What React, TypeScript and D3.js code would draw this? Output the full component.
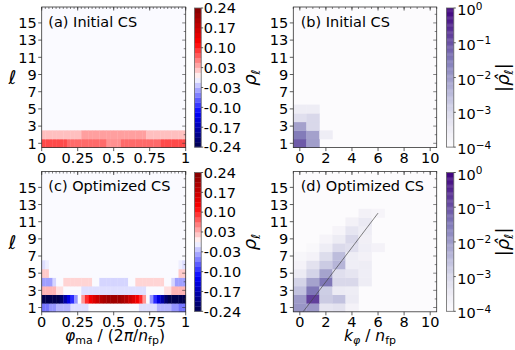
import React from 'react';
import * as d3 from 'd3';

// ---------- data ----------
const phiTicks = [0, 0.25, 0.5, 0.75, 1];
const phiTickLabels = ['0', '0.25', '0.5', '0.75', '1'];
const kTicks = [0, 2, 4, 6, 8, 10];
const lTicks = [1, 3, 5, 7, 9, 11, 13, 15];
const rhoCbTicks = [-0.24, -0.1714, -0.1029, -0.0343, 0.0343, 0.1029, 0.1714, 0.24];
const rhoCbLabels = ['-0.24', '-0.17', '-0.10', '-0.03', '0.03', '0.10', '0.17', '0.24'];
const logCbTicks = [0, -1, -2, -3, -4];

// (a) initial CS, rho_l(phi) on 40 phi columns, rows l = 1, 2
const initL1 = [0.085, 0.085, 0.085, 0.085, 0.085, 0.085, 0.085, 0.07, 0.07, 0.07, 0.07, 0.07, 0.07, 0.07, 0.07, 0.07, 0.07, 0.07, 0.052, 0.052, 0.052, 0.052, 0.07, 0.07, 0.07, 0.07, 0.07, 0.07, 0.07, 0.07, 0.07, 0.07, 0.07, 0.085, 0.085, 0.085, 0.085, 0.085, 0.085, 0.085];
const initL2 = [0.03, 0.03, 0.03, 0.03, 0.03, 0.03, 0.03, 0.03, 0.03, 0.03, 0.03, 0.045, 0.045, 0.045, 0.045, 0.045, 0.045, 0.045, 0.045, 0.045, 0.045, 0.045, 0.045, 0.045, 0.045, 0.045, 0.045, 0.045, 0.045, 0.03, 0.03, 0.03, 0.03, 0.03, 0.03, 0.03, 0.03, 0.03, 0.03, 0.03];

// (c) optimized CS, rows l = 1..6
const optL1 = [-0.065, -0.065, -0.05, -0.05, -0.035, -0.035, -0.035, -0.035, -0.015, -0.015, -0.015, -0.015, -0.015, 0, 0, 0, 0, 0, 0, 0, 0, 0, 0, 0, 0, 0, 0, -0.015, -0.015, -0.015, -0.015, -0.015, -0.035, -0.035, -0.035, -0.035, -0.05, -0.05, -0.065, -0.065];
const optL2 = [-0.24, -0.24, -0.24, -0.24, -0.24, -0.22, -0.18, -0.14, -0.1, -0.05, 0, 0.05, 0.1, 0.13, 0.15, 0.17, 0.19, 0.2, 0.21, 0.21, 0.21, 0.21, 0.2, 0.19, 0.17, 0.15, 0.13, 0.1, 0.05, 0, -0.05, -0.1, -0.14, -0.18, -0.22, -0.24, -0.24, -0.24, -0.24, -0.24];
const optL3 = [0.035, 0.035, 0.035, 0.035, 0.015, 0.015, 0, 0, 0, 0, 0, -0.015, -0.015, -0.015, -0.015, -0.015, -0.015, -0.015, -0.015, -0.015, -0.015, -0.015, -0.015, -0.015, -0.015, -0.015, -0.015, -0.015, -0.015, 0, 0, 0, 0, 0, 0.015, 0.015, 0.035, 0.035, 0.035, 0.035];
const optL4 = [-0.045, -0.045, -0.045, -0.02, 0, 0, 0.02, 0.02, 0.02, 0.02, 0.02, 0.02, 0.02, 0.02, 0, 0, -0.02, -0.02, -0.02, -0.02, -0.02, -0.02, -0.02, -0.02, 0, 0, 0.02, 0.02, 0.02, 0.02, 0.02, 0.02, 0.02, 0.02, 0, 0, -0.02, -0.045, -0.045, -0.045];
const optL5 = [0.025, 0.025, 0, 0, 0, 0, 0, 0, 0, 0, 0, 0, 0, 0, 0, 0, 0, 0, 0, 0, 0, 0, 0, 0, 0, 0, 0, 0, 0, 0, 0, 0, 0, 0, 0, 0, 0, 0, 0.025, 0.025];
const optL6 = [-0.015, -0.008, 0, 0, 0, 0, 0, 0, 0, 0, 0, 0, 0, 0, 0, 0, 0, 0, 0, 0, 0, 0, 0, 0, 0, 0, 0, 0, 0, 0, 0, 0, 0, 0, 0, 0, 0, 0, -0.008, -0.015];

// (b) initial CS spectrum |rho_hat|, rows l = 1..5, columns k = 0..10
const specInit = [
  [0.08, 0.009, 0, 0, 0, 0, 0, 0, 0, 0, 0],
  [0.03, 0.008, 0.0003, 0, 0, 0, 0, 0, 0, 0, 0],
  [0.008, 0.001, 0, 0, 0, 0, 0, 0, 0, 0, 0],
  [0.0007, 0.001, 0, 0, 0, 0, 0, 0, 0, 0, 0],
  [0.0003, 0.0003, 0, 0, 0, 0, 0, 0, 0, 0, 0],
];

// (d) optimized CS spectrum, rows l = 1..12
const specOpt = [
  [0.012, 0.011, 0.0005, 0.0006, 0.0002, 0, 0, 0, 0, 0, 0],
  [0.01, 0.16, 0.0018, 0.0025, 0.00035, 0, 0, 0, 0, 0, 0],
  [0.0025, 0.035, 0.0016, 0.00035, 0.0003, 0, 0, 0, 0, 0, 0],
  [0.0012, 0.0075, 0.035, 0.001, 0.001, 0.0003, 0, 0, 0, 0, 0],
  [0.00035, 0.0012, 0.0075, 0.0007, 0.0005, 0.00028, 0, 0, 0, 0, 0],
  [0.0002, 0.0006, 0.0018, 0.004, 0.00028, 0.0003, 0, 0, 0, 0, 0],
  [0.00015, 0.0002, 0.0008, 0.003, 0.0003, 0.00022, 0, 0, 0, 0, 0],
  [0, 0.00013, 0.0003, 0.0009, 0.0007, 0.00028, 0.0002, 0, 0, 0, 0],
  [0, 0, 0.00017, 0.00033, 0.001, 0.00025, 0, 0, 0, 0, 0],
  [0, 0, 0, 0.00017, 0.0005, 0.0003, 0, 0, 0, 0, 0],
  [0, 0, 0, 0, 0.00022, 0.0004, 0, 0, 0, 0, 0],
  [0, 0, 0, 0, 0, 0.00022, 0.00017, 0, 0, 0, 0],
];

// guide line l = 2 k
const guideK = [0.25, 6];
const guideL = [0.5, 12];

// ---------- styling / layout ----------
const FONT = 'DejaVu Sans, Verdana, sans-serif';
const FS = 14.5;
const SPINE = '#333';
const leftX: [number, number] = [41.7, 185.7];
const rightX: [number, number] = [293.3, 436.7];
const topY: [number, number] = [7, 147.6];
const botY: [number, number] = [171.5, 311.8];
const leftCbX: [number, number] = [194.5, 201.2];
const rightCbX: [number, number] = [446.4, 453.8];
const lDomain: [number, number] = [0.5, 16.85];

function seismic(t: number): string {
  t = Math.max(0, Math.min(1, t));
  const lerp = (pts: [number, number][]) => {
    for (let i = 0; i < pts.length - 1; i++) {
      const [a, va] = pts[i];
      const [b, vb] = pts[i + 1];
      if (t <= b) return va + ((t - a) / (b - a)) * (vb - va);
    }
    return pts[pts.length - 1][1];
  };
  const r = lerp([[0, 0], [0.25, 0], [0.5, 1], [0.75, 1], [1, 0.5]]);
  const g = lerp([[0, 0], [0.25, 0], [0.5, 1], [0.75, 0], [1, 0]]);
  const b = lerp([[0, 0.3], [0.25, 1], [0.5, 1], [0.75, 0], [1, 0]]);
  return d3.rgb(r * 255, g * 255, b * 255).formatHex();
}
const rhoColor = d3.scaleLinear().domain([-0.24, 0.24]).range([0, 1]).clamp(true);
const colorRho = (v: number) => seismic(rhoColor(v));
const logNorm = d3.scaleLog().domain([1e-4, 1]).range([0, 1]).clamp(true);
const colorSpec = (v: number) => d3.interpolatePurples(v > 0 ? logNorm(v) : 0);
const RHO_BG = '#fafaff';

type Cell = { x0: number; x1: number; l: number; fill: string };

function Frame({ xr, yr, xScale, yScale, xTicks, xLabels, xMinor }: any) {
  const [x0, x1] = xr;
  const [y0, y1] = yr;
  return (
    <g>
      {xTicks.map((t: number, i: number) => (
        <g key={'xb' + i}>
          <line x1={xScale(t)} x2={xScale(t)} y1={y1} y2={y1 + 3.5} stroke={SPINE} strokeWidth={0.8} />
          <text x={xScale(t)} y={y1 + 15.3} textAnchor="middle" fontSize={FS} fontFamily={FONT}>{xLabels[i]}</text>
        </g>
      ))}
      {xMinor.map((t: number, i: number) => (
        <line key={'xt' + i} x1={xScale(t)} x2={xScale(t)} y1={y0} y2={y0 + 2} stroke={SPINE} strokeWidth={0.6} />
      ))}
      {xTicks.map((t: number, i: number) => (
        <line key={'xtM' + i} x1={xScale(t)} x2={xScale(t)} y1={y0} y2={y0 + 3.5} stroke={SPINE} strokeWidth={0.8} />
      ))}
      {lTicks.map((t, i) => (
        <g key={'yl' + i}>
          <line x1={x0 - 3.5} x2={x0} y1={yScale(t)} y2={yScale(t)} stroke={SPINE} strokeWidth={0.8} />
          <text x={x0 - 5} y={yScale(t) + 5.3} textAnchor="end" fontSize={FS} fontFamily={FONT}>{t}</text>
        </g>
      ))}
      {d3.range(1, 17).map((t) => (
        <line key={'yr' + t} x1={x1 - (t % 2 ? 3.5 : 2)} x2={x1} y1={yScale(t)} y2={yScale(t)} stroke={SPINE} strokeWidth={0.6} />
      ))}
      <rect x={x0} y={y0} width={x1 - x0} height={y1 - y0} fill="none" stroke={SPINE} strokeWidth={0.8} />
    </g>
  );
}

function Heat({ xr, yr, xScale, yScale, cells, bg }: any) {
  const [x0, x1] = xr;
  const [y0, y1] = yr;
  return (
    <g>
      <rect x={x0} y={y0} width={x1 - x0} height={y1 - y0} fill={bg} />
      {cells.map((c: Cell, i: number) => {
        const a = xScale(c.x0);
        const b = xScale(c.x1);
        const top = yScale(c.l + 0.5);
        const bot = yScale(c.l - 0.5);
        return <rect key={i} x={a} y={top} width={b - a + 0.35} height={bot - top + 0.35} fill={c.fill} />;
      })}
    </g>
  );
}

function phiCells(rows: number[][]): Cell[] {
  const out: Cell[] = [];
  rows.forEach((row, li) => {
    const n = row.length;
    row.forEach((v, i) => {
      out.push({ x0: i / n, x1: (i + 1) / n, l: li + 1, fill: v === 0 ? RHO_BG : colorRho(v) });
    });
  });
  return out;
}
function specCells(rows: number[][]): Cell[] {
  const out: Cell[] = [];
  rows.forEach((row, li) => {
    row.forEach((v, k) => {
      if (v > 0) out.push({ x0: k - 0.5, x1: k + 0.5, l: li + 1, fill: colorSpec(v) });
    });
  });
  return out;
}

function RhoColorbar({ yr }: any) {
  const [y0, y1] = yr;
  const [cx0, cx1] = leftCbX;
  const s = d3.scaleLinear().domain([-0.24, 0.24]).range([y1, y0]);
  const bands = d3.range(0, 28);
  const dv = 0.48 / 28;
  return (
    <g>
      {bands.map((i) => {
        const v0 = -0.24 + i * dv;
        return <rect key={i} x={cx0} y={s(v0 + dv)} width={cx1 - cx0} height={s(v0) - s(v0 + dv) + 0.3} fill={colorRho(v0 + dv / 2)} />;
      })}
      <rect x={cx0} y={y0} width={cx1 - cx0} height={y1 - y0} fill="none" stroke="#666" strokeWidth={0.8} />
      {rhoCbTicks.map((t, i) => (
        <g key={i}>
          <line x1={cx1} x2={cx1 + 2} y1={s(t)} y2={s(t)} stroke={SPINE} strokeWidth={0.8} />
          <text x={cx1 + 2.5} y={s(t) + 5.3} fontSize={FS} fontFamily={FONT}>{rhoCbLabels[i]}</text>
        </g>
      ))}
      <text transform={`translate(255.5,${(y0 + y1) / 2}) rotate(-90)`} textAnchor="middle" fontSize={18} fontFamily={FONT}>
        <tspan fontStyle="italic">ρ</tspan>
        <tspan fontSize={12.5} dy={4} fontStyle="italic">ℓ</tspan>
      </text>
    </g>
  );
}

function LogColorbar({ yr }: any) {
  const [y0, y1] = yr;
  const [cx0, cx1] = rightCbX;
  const s = d3.scaleLinear().domain([-4, 0]).range([y1, y0]);
  const n = 120;
  return (
    <g>
      {d3.range(n).map((i) => {
        const e0 = -4 + (i * 4) / n;
        const e1 = -4 + ((i + 1) * 4) / n;
        return <rect key={i} x={cx0} y={s(e1)} width={cx1 - cx0} height={s(e0) - s(e1) + 0.3} fill={colorSpec(Math.pow(10, (e0 + e1) / 2))} />;
      })}
      <rect x={cx0} y={y0} width={cx1 - cx0} height={y1 - y0} fill="none" stroke="#666" strokeWidth={0.8} />
      {logCbTicks.map((e) => (
        <g key={e}>
          <line x1={cx1} x2={cx1 + 2} y1={s(e)} y2={s(e)} stroke={SPINE} strokeWidth={0.8} />
          <text x={cx1 + 3.5} y={s(e) + 7} fontSize={FS} fontFamily={FONT}>
            10<tspan fontSize={10.5} dy={-5.5}>{e === 0 ? '0' : '−' + Math.abs(e)}</tspan>
          </text>
        </g>
      ))}
      <text transform={`translate(509,${(y0 + y1) / 2}) rotate(-90)`} textAnchor="middle" fontSize={18} fontFamily={FONT}>
        |<tspan fontStyle="italic">ρ̂</tspan>
        <tspan fontSize={12.5} dy={4} fontStyle="italic">ℓ</tspan>
        <tspan dy={-4}>|</tspan>
      </text>
    </g>
  );
}

export default function App() {
  const xPhiL = d3.scaleLinear().domain([0, 1]).range(leftX);
  const xK = d3.scaleLinear().domain([-0.5, 10.5]).range(rightX);
  const yTop = d3.scaleLinear().domain(lDomain).range([topY[1], topY[0]]);
  const yBot = d3.scaleLinear().domain(lDomain).range([botY[1], botY[0]]);
  const phiMinor = d3.range(0, 41).map((i) => i / 40);
  const kMinor = d3.range(-1, 22).map((i) => i * 0.5).filter((v) => v >= -0.5 && v <= 10.5);

  const cellsA = phiCells([initL1, initL2]);
  const cellsC = phiCells([optL1, optL2, optL3, optL4, optL5, optL6]);
  const cellsB = specCells(specInit);
  const cellsD = specCells(specOpt);

  const title = (x: number, y: number, s: string) => (
    <text x={x} y={y} fontSize={FS} fontFamily={FONT}>{s}</text>
  );
  const ell = (cy: number) => (
    <text x={12.5} y={cy + 7} textAnchor="middle" fontSize={19} fontFamily={FONT} fontStyle="italic">ℓ</text>
  );

  return (
    <svg width={515} height={350} style={{ position: 'absolute', left: 0, top: 0, background: '#fff' }}>
      {/* (a) */}
      <Heat xr={leftX} yr={topY} xScale={xPhiL} yScale={yTop} cells={cellsA} bg={RHO_BG} />
      <Frame xr={leftX} yr={topY} xScale={xPhiL} yScale={yTop} xTicks={phiTicks} xLabels={phiTickLabels} xMinor={phiMinor} />
      {title(48.3, topY[0] + 19.7, '(a) Initial CS')}
      <RhoColorbar yr={[topY[0] + 1, topY[1] - 0.5]} />
      {ell((topY[0] + topY[1]) / 2)}

      {/* (b) */}
      <Heat xr={rightX} yr={topY} xScale={xK} yScale={yTop} cells={cellsB} bg={colorSpec(0)} />
      <Frame xr={rightX} yr={topY} xScale={xK} yScale={yTop} xTicks={kTicks} xLabels={kTicks.map(String)} xMinor={kMinor} />
      {title(300.7, topY[0] + 19.7, '(b) Initial CS')}
      <LogColorbar yr={[topY[0] + 1, topY[1] - 0.5]} />

      {/* (c) */}
      <Heat xr={leftX} yr={botY} xScale={xPhiL} yScale={yBot} cells={cellsC} bg={RHO_BG} />
      <Frame xr={leftX} yr={botY} xScale={xPhiL} yScale={yBot} xTicks={phiTicks} xLabels={phiTickLabels} xMinor={phiMinor} />
      {title(48.3, botY[0] + 19.2, '(c) Optimized CS')}
      <RhoColorbar yr={[botY[0] + 1, botY[1] - 0.5]} />
      {ell((botY[0] + botY[1]) / 2)}
      <text x={115} y={340.5} textAnchor="middle" fontSize={15.5} fontFamily={FONT}>
        <tspan fontStyle="italic">φ</tspan>
        <tspan fontSize={11} dy={3}>ma</tspan>
        <tspan dy={-3}> / (2</tspan>
        <tspan fontStyle="italic">π</tspan>
        <tspan>/</tspan>
        <tspan fontStyle="italic">n</tspan>
        <tspan fontSize={11} dy={3}>fp</tspan>
        <tspan dy={-3}>)</tspan>
      </text>

      {/* (d) */}
      <Heat xr={rightX} yr={botY} xScale={xK} yScale={yBot} cells={cellsD} bg={colorSpec(0)} />
      <line x1={xK(guideK[0])} y1={yBot(guideL[0])} x2={xK(guideK[1])} y2={yBot(guideL[1])} stroke="#444" strokeWidth={0.8} strokeOpacity={0.85} />
      <Frame xr={rightX} yr={botY} xScale={xK} yScale={yBot} xTicks={kTicks} xLabels={kTicks.map(String)} xMinor={kMinor} />
      {title(300.7, botY[0] + 19.2, '(d) Optimized CS')}
      <LogColorbar yr={[botY[0] + 1, botY[1] - 0.5]} />
      <text x={370} y={340.5} textAnchor="middle" fontSize={15.5} fontFamily={FONT}>
        <tspan fontStyle="italic">k</tspan>
        <tspan fontSize={11} dy={3} fontStyle="italic">φ</tspan>
        <tspan dy={-3}> / </tspan>
        <tspan fontStyle="italic">n</tspan>
        <tspan fontSize={11} dy={3}>fp</tspan>
      </text>
    </svg>
  );
}
